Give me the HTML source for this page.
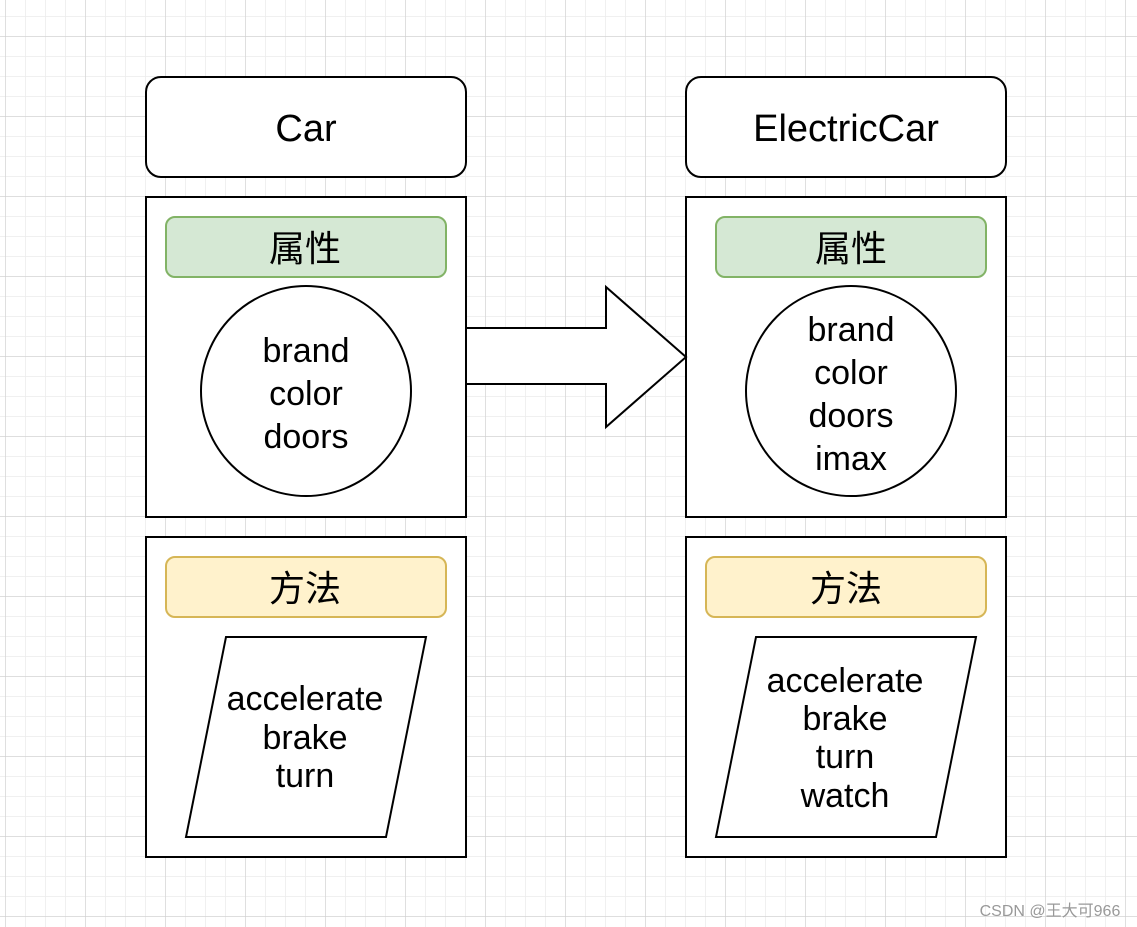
<!DOCTYPE html>
<html><head><meta charset="utf-8"><style>body{margin:0}svg{display:block}</style></head><body>
<svg width="1137" height="927" xmlns="http://www.w3.org/2000/svg" font-family="Liberation Sans, Noto Sans CJK SC, sans-serif">
<defs>
<pattern id="mi" width="20" height="20" patternUnits="userSpaceOnUse" x="5" y="16"><path d="M0 0H20M0 0V20" stroke="#ececec" stroke-width="1.5" fill="none"/></pattern>
<pattern id="ma" width="80" height="80" patternUnits="userSpaceOnUse" x="5" y="36"><path d="M0 0H80M0 0V80" stroke="#d0d0d0" stroke-width="1.2" fill="none"/></pattern>
</defs>
<rect width="1137" height="927" fill="#fff"/>
<rect width="1137" height="927" fill="url(#mi)"/>
<rect width="1137" height="927" fill="url(#ma)"/>
<g stroke="#000" stroke-width="2" fill="#fff">
<rect x="146" y="77" width="320" height="100" rx="15"/>
<rect x="686" y="77" width="320" height="100" rx="15"/>
<rect x="146" y="197" width="320" height="320"/>
<rect x="686" y="197" width="320" height="320"/>
<rect x="146" y="537" width="320" height="320"/>
<rect x="686" y="537" width="320" height="320"/>
<circle cx="306" cy="391" r="105"/>
<circle cx="851" cy="391" r="105"/>
<polygon points="226,637 426,637 386,837 186,837"/>
<polygon points="756,637 976,637 936,837 716,837"/>
<polygon points="466,328 606,328 606,287 686,357 606,427 606,384 466,384"/>
</g>
<g stroke-width="2">
<rect x="166" y="217" width="280" height="60" rx="9" fill="#d5e8d4" stroke="#82b366"/>
<rect x="716" y="217" width="270" height="60" rx="9" fill="#d5e8d4" stroke="#82b366"/>
<rect x="166" y="557" width="280" height="60" rx="9" fill="#fff2cc" stroke="#d6b656"/>
<rect x="706" y="557" width="280" height="60" rx="9" fill="#fff2cc" stroke="#d6b656"/>
</g>
<g text-anchor="middle" fill="#000">
<text x="306" y="141" font-size="38">Car</text>
<text x="846" y="141" font-size="38">ElectricCar</text>
<text x="305" y="261" font-size="36">属性</text>
<text x="851" y="261" font-size="36">属性</text>
<text x="305" y="601" font-size="36">方法</text>
<text x="846" y="601" font-size="36">方法</text>
<g font-size="34">
<text x="306" y="362">brand</text><text x="306" y="405">color</text><text x="306" y="448">doors</text>
<text x="851" y="341">brand</text><text x="851" y="384">color</text><text x="851" y="427">doors</text><text x="851" y="470">imax</text>
<text x="305" y="710">accelerate</text><text x="305" y="749">brake</text><text x="305" y="787">turn</text>
<text x="845" y="692">accelerate</text><text x="845" y="730">brake</text><text x="845" y="768">turn</text><text x="845" y="807">watch</text>
</g>
<text x="1050" y="916" font-size="16" fill="#999">CSDN @王大可966</text>
</g>
</svg>
</body></html>
